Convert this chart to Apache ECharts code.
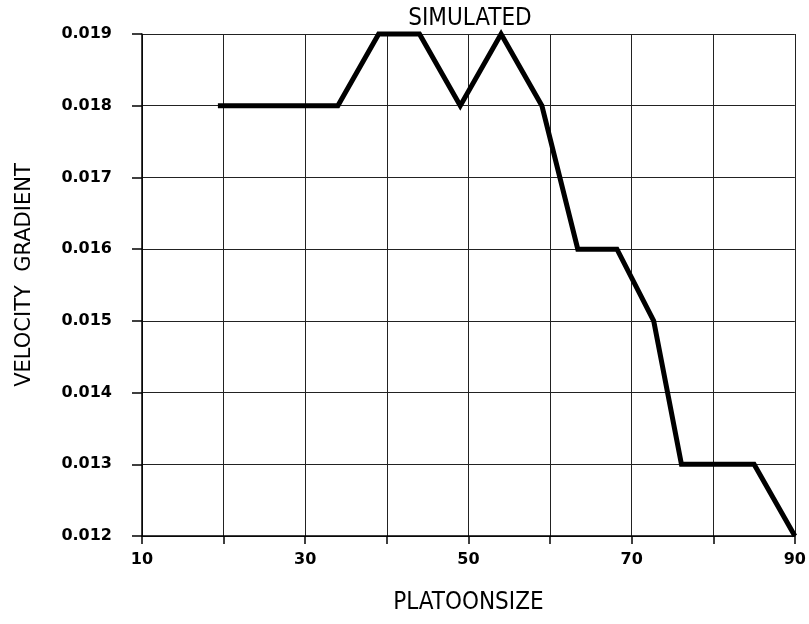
<!DOCTYPE html>
<html>
<head>
<meta charset="utf-8">
<script src="https://cdn.jsdelivr.net/npm/echarts@6/dist/echarts.min.js"></script>
<style>
  html, body { margin: 0; padding: 0; background: #fff; }
  #chart { width: 809px; height: 624px; }
</style>
</head>
<body>
<div id="chart"></div>
<script>
// Platoon size against simulated velocity gradient
const platoonSize = [19.3, 34, 39, 44, 49, 54, 59, 63.4, 68.2, 72.7, 76.1, 85, 90];
const velocityGradient = [0.018, 0.018, 0.019, 0.019, 0.018, 0.019, 0.018, 0.016, 0.016, 0.015, 0.013, 0.013, 0.012];
const xLabeled = [10, 30, 50, 70, 90];

const points = platoonSize.map((x, i) => [x, velocityGradient[i]]);

const chart = echarts.init(document.getElementById('chart'), null, { renderer: 'canvas' });

const labelFont = { fontFamily: 'DejaVu Sans', fontWeight: 'bold', fontSize: 16, color: '#000' };
const nameFont = { fontFamily: 'DejaVu Sans Condensed, DejaVu Sans', fontWeight: 'normal', fontSize: 24, color: '#000' };
const gridLine = { show: true, lineStyle: { color: '#222', width: 1, type: 'solid' } };

chart.setOption({
  animation: false,
  backgroundColor: '#fff',
  title: {
    text: 'SIMULATED',
    left: 465,
    top: 2,
    textAlign: 'center',
    textStyle: { fontFamily: 'DejaVu Sans Condensed, DejaVu Sans', fontWeight: 'normal', fontSize: 24, color: '#000' }
  },
  grid: { left: 142, right: 12, top: 34, bottom: 88, containLabel: false },
  xAxis: {
    type: 'value',
    min: 10,
    max: 90,
    interval: 10,
    name: 'PLATOONSIZE',
    nameLocation: 'middle',
    nameGap: 55,
    nameTextStyle: nameFont,
    axisLine: { show: true, lineStyle: { color: '#000', width: 1.5 } },
    axisTick: { show: true, inside: false, length: 8, lineStyle: { color: '#000', width: 1.5 } },
    axisLabel: Object.assign({
      margin: 16,
      formatter: v => (xLabeled.includes(v) ? String(v) : '')
    }, labelFont),
    splitLine: gridLine
  },
  yAxis: {
    type: 'value',
    min: 0.012,
    max: 0.019,
    interval: 0.001,
    name: 'VELOCITY  GRADIENT',
    nameLocation: 'middle',
    nameGap: 107,
    nameRotate: 90,
    nameTextStyle: Object.assign({}, nameFont, { fontFamily: 'DejaVu Sans', fontSize: 21, padding: [0, 0, 0, 20] }),
    axisLine: { show: true, lineStyle: { color: '#000', width: 1.5 } },
    axisTick: { show: true, inside: false, length: 10, lineStyle: { color: '#000', width: 1.5 } },
    axisLabel: Object.assign({
      margin: 30,
      formatter: v => v.toFixed(3)
    }, labelFont),
    splitLine: gridLine
  },
  series: [{
    type: 'line',
    data: points,
    symbol: 'none',
    lineStyle: { color: '#000', width: 5, join: 'miter' },
    clip: false
  }]
});
</script>
</body>
</html>
